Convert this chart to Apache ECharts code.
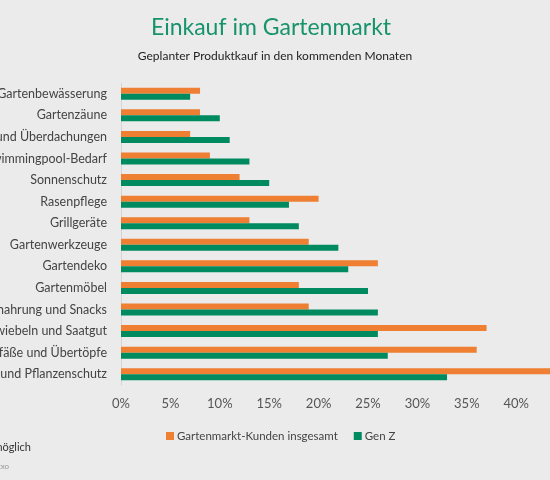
<!DOCTYPE html>
<html><head><meta charset="utf-8">
<script src="https://cdn.jsdelivr.net/npm/echarts@6/dist/echarts.min.js"></script>
<style>html,body{margin:0;padding:0;background:#ebebeb}#c{width:550px;height:480px}</style>
</head><body><div id="c"></div>
<script>
const categories = ["Gartenbewässerung","Gartenzäune","Pavillons und Überdachungen","Swimmingpool-Bedarf","Sonnenschutz","Rasenpflege","Grillgeräte","Gartenwerkzeuge","Gartendeko","Gartenmöbel","Tiernahrung und Snacks","Blumenzwiebeln und Saatgut","Pflanzgefäße und Übertöpfe","Dünger und Pflanzenschutz"];
const totalValues = [8,8,7,9,12,20,13,19,26,18,19,37,36,44];
const genZValues = [7,10,11,13,15,17,18,22,23,25,26,26,27,33];
const seriesNames = ["Gartenmarkt-Kunden insgesamt","Gen Z"];
const xTicks = [0,5,10,15,20,25,30,35,40,45];

const chart = echarts.init(document.getElementById('c'));
const font = 'Lato, "Noto Sans", sans-serif';
chart.setOption({
  backgroundColor:'#ebebeb',
  animation:false,
  textStyle:{fontFamily:font},
  title:[
    {text:'Einkauf im Gartenmarkt',left:266,top:11,textAlign:'center',textStyle:{fontFamily:font,fontSize:23,fontWeight:'normal',color:'#17936b'}},
    {text:'Geplanter Produktkauf in den kommenden Monaten',left:270,top:45,textAlign:'center',textStyle:{fontFamily:font,fontSize:12,fontWeight:'normal',color:'#222'}}
  ],
  legend:{left:161,top:425,itemWidth:8,itemHeight:8,itemGap:16,icon:'rect',
    textStyle:{fontFamily:font,fontSize:11.5,color:'#444',padding:[0,0,0,-2]},data:seriesNames},
  grid:{left:121,right:-15.6,top:83,bottom:95,containLabel:false,outerBoundsMode:'none'},
  xAxis:{type:'value',min:0,max:45,interval:5,
    axisLine:{show:false},axisTick:{show:false},splitLine:{show:false},
    axisLabel:{formatter:v=>xTicks.includes(v)?v+'%':'',fontSize:13,color:'#555',margin:12,fontFamily:font}},
  yAxis:{type:'category',inverse:true,data:categories,
    axisLine:{show:true,lineStyle:{color:'#d4d4d4'}},axisTick:{show:false},
    axisLabel:{fontSize:12.5,color:'#444',margin:14,fontFamily:font}},
  series:[
    {name:seriesNames[0],type:'bar',data:totalValues,barWidth:6,barGap:'0%',itemStyle:{color:'#ee7f33'}},
    {name:seriesNames[1],type:'bar',data:genZValues,barWidth:6,barGap:'0%',itemStyle:{color:'#008a5f'}}
  ],
  graphic:[
    {type:'text',right:519,top:442,style:{text:'Mehrfachnennungen möglich',fontFamily:font,fontSize:11,fill:'#333',textAlign:'right'}},
    {type:'text',right:541,top:462,style:{text:'Quelle: Umfrage, Nexxo',fontFamily:font,fontSize:8,fill:'#999',textAlign:'right'}}
  ]
});
</script></body></html>
